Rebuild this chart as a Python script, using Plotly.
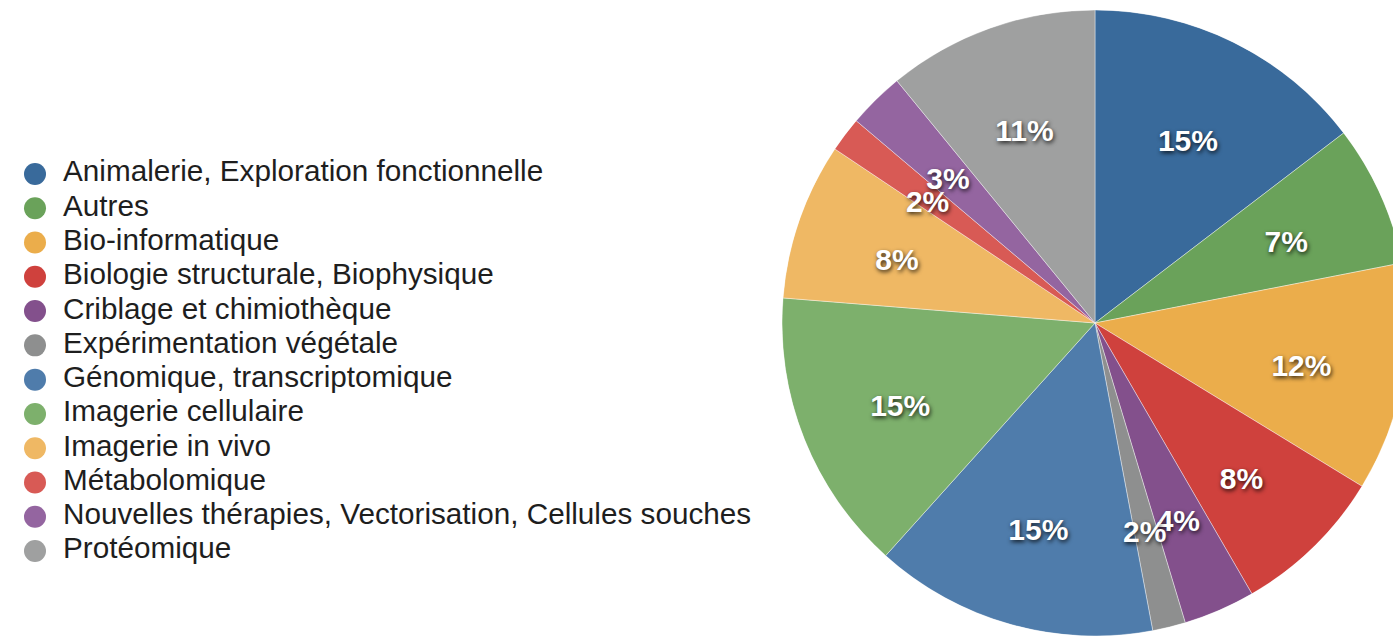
import numpy as np
import plotly.graph_objects as go

categories = [
    "Animalerie, Exploration fonctionnelle",
    "Autres",
    "Bio-informatique",
    "Biologie structurale, Biophysique",
    "Criblage et chimiothèque",
    "Expérimentation végétale",
    "Génomique, transcriptomique",
    "Imagerie cellulaire",
    "Imagerie in vivo",
    "Métabolomique",
    "Nouvelles thérapies, Vectorisation, Cellules souches",
    "Protéomique",
]
values = [14.6, 7.3, 11.8, 7.9, 3.7, 1.7, 14.6, 14.6, 8.1, 1.8, 2.9, 10.9]
colors = [
    "#396a9b", "#6aa25a", "#ebad4b", "#cf413d", "#83508c", "#8e8f8f",
    "#4f7cab", "#7db06c", "#efb864", "#d85a55", "#9465a0", "#9fa0a0",
]

# derived slice geometry (angles, in degrees) and percent labels
v = np.array(values, dtype=float)
total = v.sum()
widths = v / total * 360.0
mids = (np.cumsum(v) - v / 2) / total * 360.0
pct_text = [f"{int(x / total * 100 + 0.5)}%" for x in v]

# canvas slightly larger than the window (pie runs off the right edge, as in the reference)
W, H = 1411, 652
cx, cy, rad = 1095, 323, 313
pie_domain = dict(x=[(cx - rad) / W, (cx + rad) / W],
                  y=[1 - (cy + rad) / H, 1 - (cy - rad) / H])
lbl_dy = 8  # label baseline nudge (px)
lbl_domain = dict(x=pie_domain["x"],
                  y=[pie_domain["y"][0] - lbl_dy / H, pie_domain["y"][1] - lbl_dy / H])

fig = go.Figure()
# pie slices
fig.add_trace(go.Barpolar(
    r=[1] * len(v), theta=mids, width=widths,
    marker=dict(color=colors, line=dict(color="rgba(255,255,255,0.5)", width=0.8)),
    customdata=categories, hovertemplate="%{customdata}<extra></extra>",
    showlegend=False, subplot="polar",
))
# percent labels
fig.add_trace(go.Scatterpolar(
    r=[0.67] * len(v), theta=mids, mode="text", text=pct_text,
    textposition="middle center",
    textfont=dict(family="Liberation Sans, Arial, sans-serif", size=30, color="white",
                  weight="bold", shadow="1px 2px 4px rgba(0,0,0,0.8)"),
    hoverinfo="skip", showlegend=False, subplot="polar2",
))
# legend: markers + texts on a categorical axis
fig.add_trace(go.Scatter(
    x=[35] * len(categories), y=categories, mode="markers",
    marker=dict(color=colors, size=22, symbol="circle", line=dict(width=0)),
    hoverinfo="skip", showlegend=False,
))
fig.add_trace(go.Scatter(
    x=[63] * len(categories), y=categories, mode="text", text=categories,
    textposition="middle right",
    textfont=dict(family="Liberation Sans, Arial, sans-serif", size=29.7, color="#1e1e1e"),
    hoverinfo="skip", showlegend=False,
))

row_h = 34.27
y_top = 174 - row_h / 2
y_bot = 551 + row_h / 2
axis_hidden = dict(visible=False, showgrid=False)
fig.update_layout(
    width=W, height=H,
    margin=dict(l=0, r=0, t=0, b=0),
    paper_bgcolor="white", plot_bgcolor="rgba(0,0,0,0)",
    showlegend=False,
    xaxis=dict(visible=False, range=[0, W], domain=[0, 1], fixedrange=True),
    yaxis=dict(visible=False, type="category", categoryorder="array", categoryarray=categories,
               range=[len(categories) - 0.5, -0.5], domain=[1 - y_bot / H, 1 - y_top / H],
               fixedrange=True),
    polar=dict(
        domain=pie_domain, bgcolor="rgba(0,0,0,0)", bargap=0, hole=0,
        angularaxis=dict(axis_hidden, rotation=90, direction="clockwise"),
        radialaxis=dict(axis_hidden, range=[0, 1]),
    ),
    polar2=dict(
        domain=lbl_domain, bgcolor="rgba(0,0,0,0)",
        angularaxis=dict(axis_hidden, rotation=90, direction="clockwise"),
        radialaxis=dict(axis_hidden, range=[0, 1]),
    ),
)

fig.write_html("out.html", config={"displayModeBar": False},
               post_script="document.body.style.margin='0';document.body.style.overflow='hidden';")
